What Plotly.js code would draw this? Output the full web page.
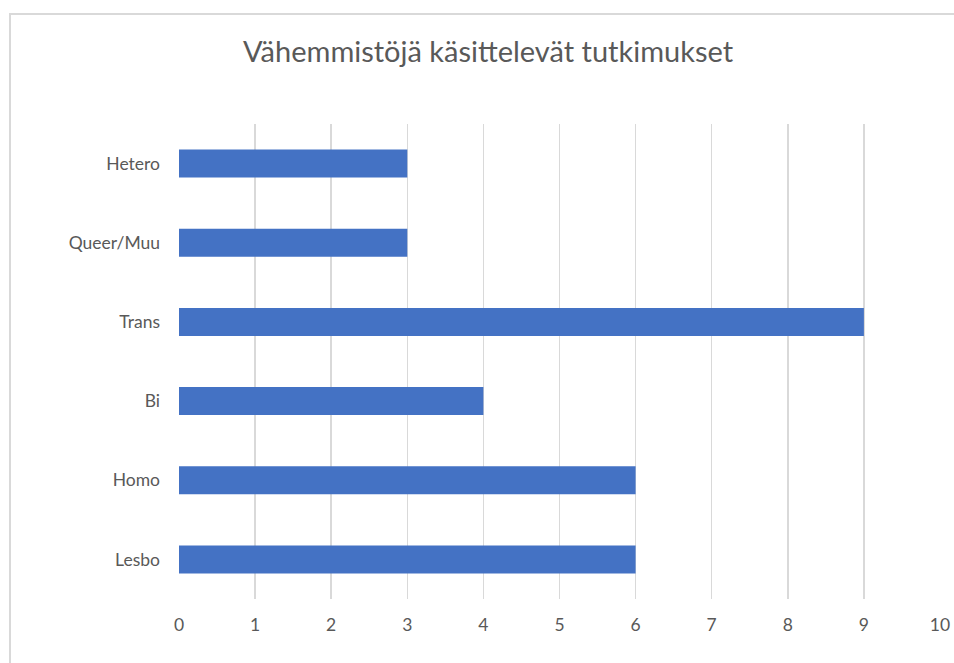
<!DOCTYPE html>
<html><head><meta charset="utf-8">
<script src="https://cdn.plot.ly/plotly-3.0.1.min.js"></script>
<style>
html,body{margin:0;padding:0;background:#fff;overflow:hidden;}
#frame{position:absolute;left:9px;top:13px;width:1000px;height:700px;border:2px solid #d9d9d9;box-sizing:border-box;}
#chart{position:absolute;left:0;top:0;width:954px;height:663px;}
</style></head>
<body>
<div id="frame"></div>
<div id="chart"></div>
<script>
const categories = ["Lesbo", "Homo", "Bi", "Trans", "Queer/Muu", "Hetero"];
const values = [6, 6, 4, 9, 3, 3];
const xTicks = [0,1,2,3,4,5,6,7,8,9,10];
const titleText = "Vähemmistöjä käsittelevät tutkimukset";

const font = "Lato, 'Open Sans', sans-serif";
Plotly.newPlot("chart", [{
  type: "bar",
  orientation: "h",
  y: categories,
  x: values,
  marker: {color: "#4472C4"},
  hoverinfo: "x+y"
}], {
  width: 954, height: 663,
  paper_bgcolor: "rgba(0,0,0,0)",
  plot_bgcolor: "rgba(0,0,0,0)",
  margin: {l: 179, r: 14, t: 124, b: 64},
  bargap: 0.646,
  showlegend: false,
  title: {text: titleText, x: 488/954, xanchor: "center", y: 1 - 52/663, yanchor: "middle",
          font: {family: font, size: 29, color: "#595959"}},
  xaxis: {range: [0, 10], tickvals: xTicks, showgrid: true, gridcolor: "#d9d9d9", gridwidth: 1.5,
          zeroline: false, showline: false, ticks: "", ticklabelstandoff: 13,
          tickfont: {family: font, size: 17.5, color: "#595959"}, fixedrange: true},
  yaxis: {type: "category", categoryorder: "array", categoryarray: categories,
          showgrid: false, zeroline: false, showline: false, ticks: "", ticklabelstandoff: 18,
          tickfont: {family: font, size: 17.5, color: "#595959"}, fixedrange: true}
}, {displayModeBar: false, staticPlot: true});
</script>
</body></html>
